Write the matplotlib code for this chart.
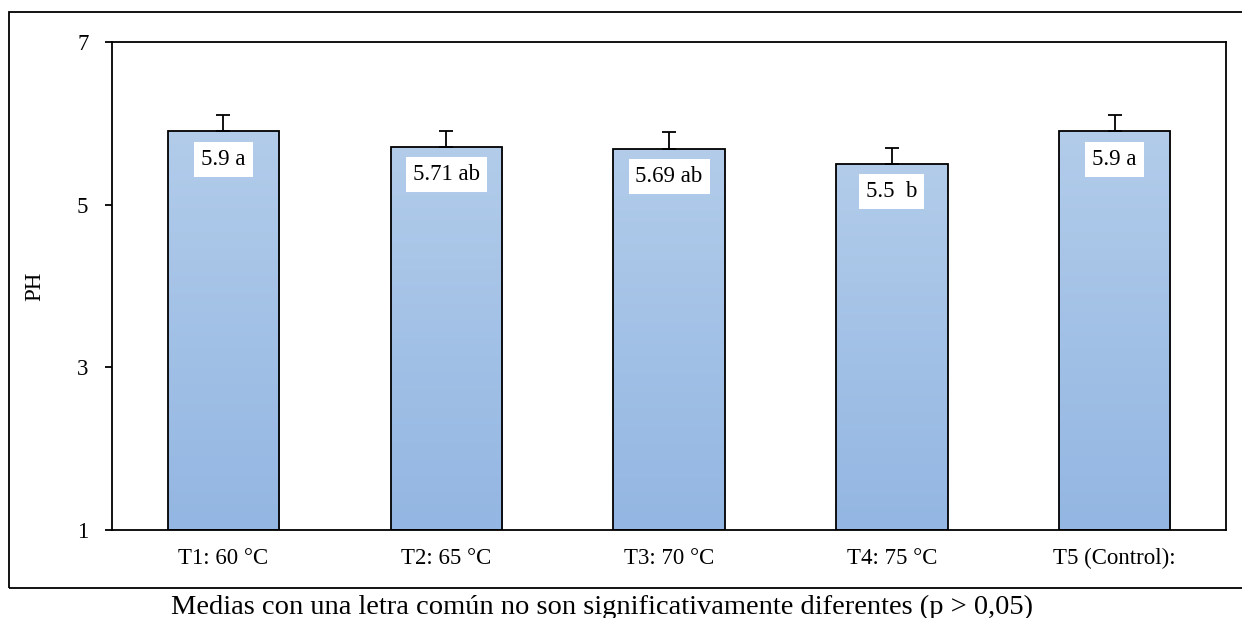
import numpy as np
import matplotlib
matplotlib.use("Agg")
import matplotlib.pyplot as plt
from matplotlib.patches import Rectangle
from matplotlib.colors import LinearSegmentedColormap

# data
categorias = ["T1: 60 °C", "T2: 65 °C", "T3: 70 °C", "T4: 75 °C", "T5 (Control):"]
ph = [5.9, 5.71, 5.69, 5.5, 5.9]
error = [0.2, 0.2, 0.2, 0.2, 0.2]
etiquetas = ["5.9 a", "5.71 ab", "5.69 ab", "5.5  b", "5.9 a"]
yticks = [1, 3, 5, 7]
nota = "Medias con una letra común no son significativamente diferentes (p > 0,05)"

plt.rcParams['font.family'] = ['Liberation Serif', 'DejaVu Serif']

fig = plt.figure(figsize=(12.42, 6.18), dpi=100)
ax = fig.add_axes([112/1242, 88/618, 1114/1242, 488/618])

# outer frame
fig.patches.append(Rectangle((9/1242, 30/618), 1.05, 576/618, transform=fig.transFigure,
                             fill=False, edgecolor='black', linewidth=1.3))

x = np.arange(len(categorias))
ancho = 0.5
ymin = 1
bars = ax.bar(x, [v - ymin for v in ph], bottom=ymin, width=ancho,
              facecolor='none', edgecolor='black', linewidth=1.3, zorder=3)

# gradient fill
cmap = LinearSegmentedColormap.from_list('g', ['#93b6e2', '#b2ccea'])
grad = np.linspace(0, 1, 256).reshape(-1, 1)
for b in bars:
    xl, yb = b.get_x(), b.get_y()
    w, h = b.get_width(), b.get_height()
    im = ax.imshow(grad, cmap=cmap, aspect='auto', origin='lower',
                   extent=[xl, xl + w, yb, yb + h], zorder=2)
    im.set_clip_path(b)

ax.errorbar(x, ph, yerr=[[0]*len(ph), error], fmt='none', ecolor='black',
            elinewidth=1.3, capsize=4.7, capthick=1.3, zorder=4)

for xi, v, t in zip(x, ph, etiquetas):
    ax.annotate(t, xy=(xi, v), xytext=(0, -20), textcoords='offset points',
                ha='center', va='center', fontsize=16.5, zorder=5,
                bbox=dict(boxstyle='square,pad=0.3', facecolor='white', edgecolor='none'))

ax.set_xlim(-0.5, len(categorias) - 0.5)
ax.set_ylim(1, 7)
ax.set_yticks(yticks)
ax.set_xticks(x)
ax.set_xticklabels(categorias)
ax.tick_params(axis='x', length=0, pad=13, labelsize=16.5)
ax.tick_params(axis='y', length=5, width=1.3, pad=12, labelsize=16.5)
for s in ax.spines.values():
    s.set_linewidth(1.3)

ax.set_ylabel("PH", fontsize=16.5)
ax.yaxis.set_label_coords(-0.060, 0.5)

fig.text(602/1242, 11/618, nota, ha='center', va='center', fontsize=20.5)

plt.savefig("out.png", dpi=100)
